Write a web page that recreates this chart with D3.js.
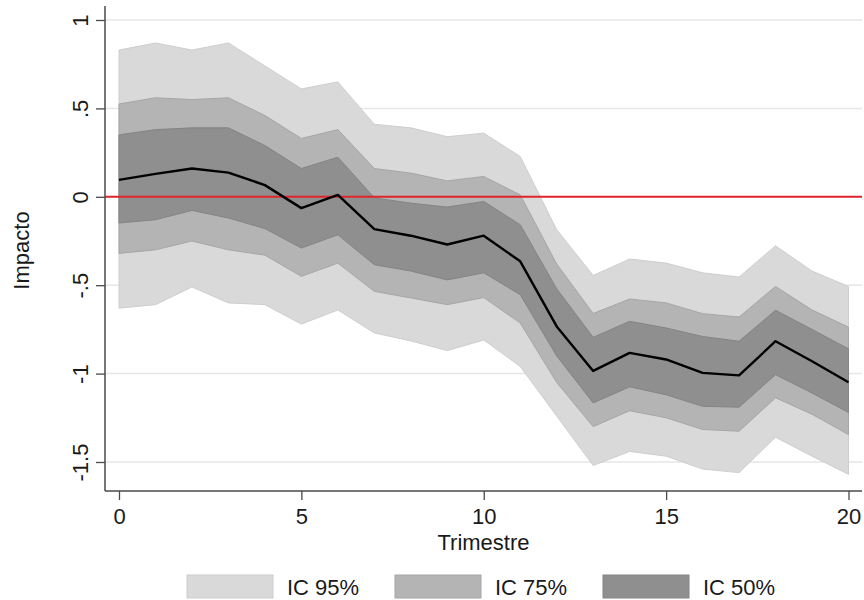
<!DOCTYPE html>
<html>
<head>
<meta charset="utf-8">
<script src="https://cdn.jsdelivr.net/npm/d3@7"></script>
<style>
  body { margin: 0; background: #fff; }
  svg { display: block; font-family: "Liberation Sans", Arial, sans-serif; }
</style>
</head>
<body>
<svg id="chart" width="864" height="600"></svg>
<script>
// ---------- Data ----------
const quarters = [0, 1, 2, 3, 4, 5, 6, 7, 8, 9, 10, 11, 12, 13, 14, 15, 16, 17, 18, 19, 20];
const impact = [0.096, 0.13, 0.16, 0.137, 0.066, -0.064, 0.011, -0.183, -0.22, -0.27, -0.22,
                -0.365, -0.733, -0.985, -0.883, -0.92, -0.996, -1.01, -0.817, -0.93, -1.049];
const hi95 = [0.83, 0.87, 0.83, 0.87, 0.74, 0.61, 0.65, 0.41, 0.39, 0.34, 0.36,
              0.228, -0.186, -0.445, -0.352, -0.375, -0.43, -0.454, -0.277, -0.42, -0.507];
const lo95 = [-0.63, -0.61, -0.51, -0.60, -0.61, -0.72, -0.64, -0.77, -0.815, -0.87, -0.81,
              -0.96, -1.24, -1.52, -1.44, -1.467, -1.54, -1.56, -1.36, -1.467, -1.57];
const hi75 = [0.525, 0.56, 0.55, 0.56, 0.46, 0.33, 0.38, 0.16, 0.134, 0.09, 0.115,
              0.011, -0.38, -0.66, -0.578, -0.60, -0.661, -0.68, -0.507, -0.64, -0.737];
const lo75 = [-0.32, -0.30, -0.25, -0.30, -0.33, -0.45, -0.375, -0.535, -0.572, -0.61, -0.57,
              -0.714, -1.05, -1.30, -1.21, -1.25, -1.316, -1.326, -1.137, -1.23, -1.345];
const hi50 = [0.35, 0.38, 0.39, 0.39, 0.29, 0.16, 0.224, -0.006, -0.036, -0.058, -0.026,
              -0.158, -0.52, -0.795, -0.704, -0.742, -0.79, -0.817, -0.642, -0.75, -0.86];
const lo50 = [-0.148, -0.13, -0.077, -0.12, -0.18, -0.29, -0.215, -0.384, -0.42, -0.47, -0.43,
              -0.554, -0.90, -1.166, -1.075, -1.12, -1.185, -1.19, -1.006, -1.11, -1.22];

const yTicks = [-1.5, -1, -0.5, 0, 0.5, 1];
const yTickLabels = ["-1.5", "-1", "-.5", "0", ".5", "1"];
const xTicks = [0, 5, 10, 15, 20];
const legendLabels = ["IC 95%", "IC 75%", "IC 50%"];

// ---------- Layout ----------
const plot = { left: 105, right: 862, top: 6, bottom: 491 };
const bandFill = ["#d9d9d9", "#b4b4b4", "#8f8f8f"];
const bandStroke = ["#cecece", "#a6a6a6", "#848484"];
const fontSize = "22px";

const svg = d3.select("#chart");

const xScale = d3.scaleLinear().domain([0, 20]).range([119, 848.5]);
const yScale = d3.scaleLinear().domain([-1.5, 1]).range([462, 20]);

// ---------- Gridlines ----------
svg.append("g")
  .selectAll("line")
  .data(yTicks)
  .join("line")
  .attr("x1", plot.left)
  .attr("x2", plot.right)
  .attr("y1", d => yScale(d))
  .attr("y2", d => yScale(d))
  .attr("stroke", "#e6e6e6")
  .attr("stroke-width", 1.5);

// ---------- Bands ----------
const bands = [
  { lo: lo95, hi: hi95 },
  { lo: lo75, hi: hi75 },
  { lo: lo50, hi: hi50 }
];

const area = d3.area()
  .x(d => xScale(d.t))
  .y0(d => yScale(d.lo))
  .y1(d => yScale(d.hi));

svg.append("g")
  .selectAll("path")
  .data(bands)
  .join("path")
  .attr("d", b => area(quarters.map((t, i) => ({ t, lo: b.lo[i], hi: b.hi[i] }))))
  .attr("fill", (d, i) => bandFill[i])
  .attr("stroke", (d, i) => bandStroke[i])
  .attr("stroke-width", 1);

// ---------- Zero line ----------
svg.append("line")
  .attr("x1", plot.left)
  .attr("x2", plot.right)
  .attr("y1", yScale(0))
  .attr("y2", yScale(0))
  .attr("stroke", "#e0242c")
  .attr("stroke-width", 2);

// ---------- Impact line ----------
const line = d3.line()
  .x((d, i) => xScale(quarters[i]))
  .y(d => yScale(d));

svg.append("path")
  .attr("d", line(impact))
  .attr("fill", "none")
  .attr("stroke", "#000")
  .attr("stroke-width", 2.4)
  .attr("stroke-linejoin", "round");

// ---------- Axes ----------
const axisColor = "#4a4a4a";
const textColor = "#1a1a1a";

const yAxis = svg.append("g")
  .attr("transform", `translate(${plot.left},0)`)
  .call(d3.axisLeft(yScale)
    .tickValues(yTicks)
    .tickFormat((d, i) => yTickLabels[i])
    .tickSize(9)
    .tickSizeOuter(0));
yAxis.select(".domain").remove();
yAxis.selectAll(".tick line").attr("stroke", axisColor).attr("stroke-width", 1.3);
yAxis.selectAll(".tick text")
  .attr("x", null)
  .attr("dy", null)
  .attr("transform", "translate(-17,0) rotate(-90)")
  .attr("text-anchor", "middle")
  .attr("fill", textColor)
  .style("font-size", fontSize)
  .style("font-family", "'Liberation Sans', Arial, sans-serif");

const xAxis = svg.append("g")
  .attr("transform", `translate(0,${plot.bottom})`)
  .call(d3.axisBottom(xScale)
    .tickValues(xTicks)
    .tickSize(9)
    .tickSizeOuter(0));
xAxis.select(".domain").remove();
xAxis.selectAll(".tick line").attr("stroke", axisColor).attr("stroke-width", 1.3);
xAxis.selectAll(".tick text")
  .attr("y", 33)
  .attr("dy", null)
  .attr("fill", textColor)
  .style("font-size", fontSize)
  .style("font-family", "'Liberation Sans', Arial, sans-serif");

// axis lines
svg.append("line")
  .attr("x1", plot.left).attr("x2", plot.left)
  .attr("y1", plot.top).attr("y2", plot.bottom)
  .attr("stroke", axisColor).attr("stroke-width", 1.5);
svg.append("line")
  .attr("x1", plot.left).attr("x2", plot.right)
  .attr("y1", plot.bottom).attr("y2", plot.bottom)
  .attr("stroke", axisColor).attr("stroke-width", 1.5);

// ---------- Axis titles ----------
svg.append("text")
  .attr("x", (plot.left + plot.right) / 2)
  .attr("y", 550)
  .attr("text-anchor", "middle")
  .attr("fill", textColor)
  .style("font-size", fontSize)
  .text("Trimestre");

svg.append("text")
  .attr("transform", `translate(29,${(plot.top + plot.bottom) / 2 + 2}) rotate(-90)`)
  .attr("text-anchor", "middle")
  .attr("fill", textColor)
  .style("font-size", fontSize)
  .text("Impacto");

// ---------- Legend ----------
const legend = svg.append("g")
  .selectAll("g")
  .data(legendLabels)
  .join("g")
  .attr("transform", (d, i) => `translate(${187 + i * 208},575)`);

legend.append("rect")
  .attr("width", 86)
  .attr("height", 23)
  .attr("fill", (d, i) => bandFill[i])
  .attr("stroke", (d, i) => bandStroke[i])
  .attr("stroke-width", 1);

legend.append("text")
  .attr("x", 100)
  .attr("y", 20)
  .attr("fill", textColor)
  .style("font-size", fontSize)
  .text(d => d);
</script>
</body>
</html>
